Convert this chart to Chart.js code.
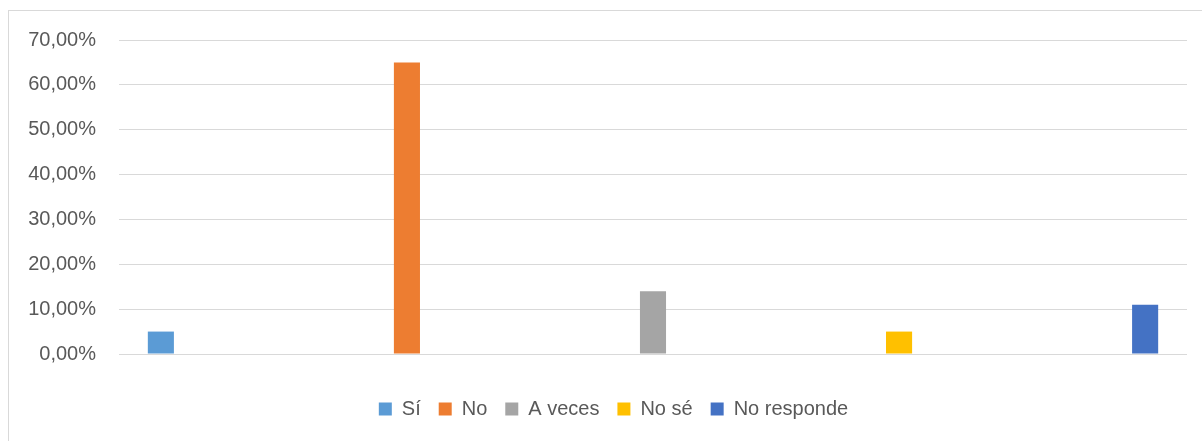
<!DOCTYPE html>
<html lang="es">
<head>
    <meta charset="UTF-8">
    <title>Respuestas</title>
    <script src="https://cdn.jsdelivr.net/npm/chart.js"></script>
    <style>
        body {
            margin: 0;
            padding: 0;
            background: #ffffff;
            overflow: hidden;
        }
        .frame {
            position: absolute;
            left: 8px;
            top: 10px;
            width: 1300px;
            height: 500px;
            border-left: 1px solid #d9d9d9;
            border-top: 1px solid #d9d9d9;
        }
        .wrap {
            position: absolute;
            left: 0;
            top: 0;
            width: 1202px;
            height: 441px;
        }
    </style>
</head>
<body>
    <div class="frame"></div>
    <div class="wrap"><canvas id="chart"></canvas></div>

    <script>
        // una sola categoria, cinco series
        const categories = [''];
        const seriesNames = ['Sí', 'No', 'A veces', 'No sé', 'No responde'];
        const seriesValues = [5, 65, 14, 5, 11];
        const seriesColors = ['#5b9bd5', '#ed7d31', '#a5a5a5', '#ffc000', '#4472c4'];
        const yTicks = [0, 10, 20, 30, 40, 50, 60, 70];

        const datasets = seriesNames.map((name, i) => ({
            label: name,
            data: [seriesValues[i]],
            backgroundColor: seriesColors[i],
            borderWidth: 0,
            categoryPercentage: 1.152,
            barPercentage: 0.106
        }));

        const font = { family: "'Liberation Sans', Arial, sans-serif", size: 20 };

        // la leyenda va centrada sobre el area del grafico, no sobre todo el lienzo
        const legendShift = {
            id: 'legendShift',
            afterLayout(chart) {
                chart.legend.left = 40;
            }
        };

        new Chart(document.getElementById('chart'), {
            type: 'bar',
            data: { labels: categories, datasets: datasets },
            options: {
                responsive: true,
                maintainAspectRatio: false,
                animation: false,
                layout: { padding: { top: 40, right: 15, bottom: 12, left: 0 } },
                plugins: {
                    tooltip: { enabled: false },
                    legend: {
                        position: 'bottom',
                        labels: {
                            font: font,
                            color: '#595959',
                            boxWidth: 13,
                            boxHeight: 13,
                            padding: 18
                        }
                    }
                },
                scales: {
                    x: {
                        afterFit: axis => { axis.height = 27; },
                        grid: { display: false },
                        ticks: { display: false },
                        border: { display: false }
                    },
                    y: {
                        min: yTicks[0],
                        max: yTicks[yTicks.length - 1],
                        afterBuildTicks: axis => {
                            axis.ticks = yTicks.map(v => ({ value: v }));
                        },
                        afterFit: axis => { axis.width = 119; },
                        grid: { color: '#d9d9d9', lineWidth: 1, drawTicks: false },
                        border: { display: false },
                        ticks: {
                            font: font,
                            color: '#595959',
                            padding: 23,
                            callback: v => v.toFixed(2).replace('.', ',') + '%'
                        }
                    }
                }
            },
            plugins: [legendShift]
        });
    </script>
</body>
</html>
